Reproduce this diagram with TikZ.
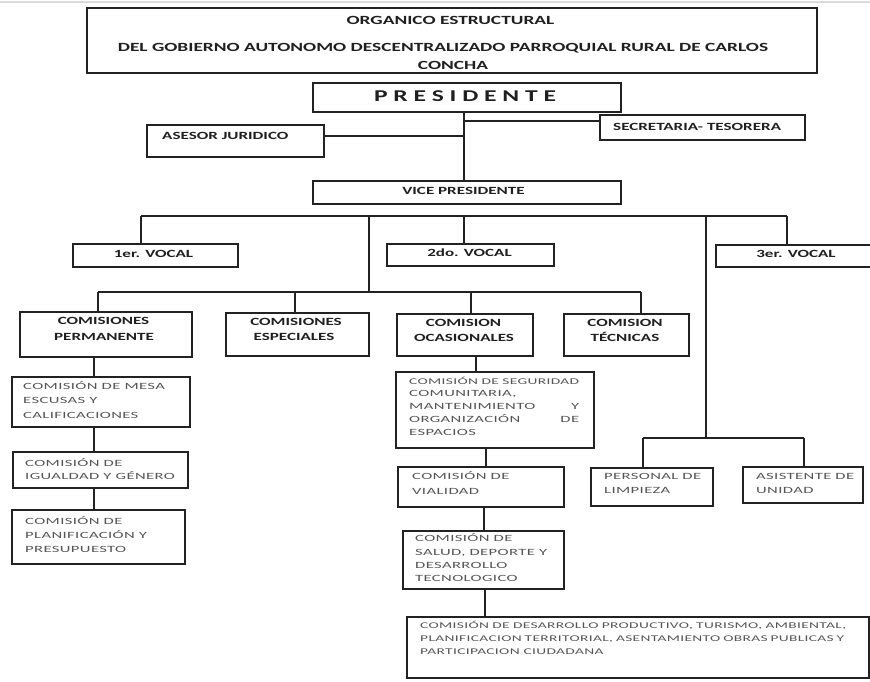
\documentclass[tikz,border=0pt]{standalone}
\usepackage{fontspec}
\setmainfont{Carlito}
\newfontfamily\hdfont[FakeStretch=1.55]{Carlito}
\newfontfamily\ltfont[FakeStretch=1.75,LetterSpace=4]{Carlito}
\definecolor{lnc}{HTML}{222222}
\definecolor{ltc}{HTML}{555555}
\begin{document}
\begin{tikzpicture}[x=1pt,y=-1pt,
  bx/.style={draw=lnc, line width=1.3pt, inner sep=0pt},
  cn/.style={draw=lnc, line width=1.4pt},
  hd/.style={inner sep=0pt, anchor=base, text=black!88, font=\hdfont\bfseries\fontsize{11}{13}\selectfont},
  hdw/.style={hd, anchor=base west},
  lt/.style={inner sep=0pt, anchor=base west, text=ltc, font=\ltfont\fontsize{9.5}{11}\selectfont},
  lts/.style={lt, font=\ltfont\fontsize{8.8}{11}\selectfont}]
\useasboundingbox (0,0) rectangle (870,681);
\draw[black!14, line width=1.5pt] (0,2) -- (870,2);

% boxes
\node[bx, minimum width=730, minimum height=65] (title) at (452,40.5) {};
\node[bx, minimum width=308, minimum height=29] (pres) at (467,97.5) {};
\node[bx, minimum width=177, minimum height=32] (asesor) at (235.5,141) {};
\node[bx, minimum width=205, minimum height=25] (secre) at (702.5,127.5) {};
\node[bx, minimum width=308, minimum height=23] (vp) at (467,192.5) {};
\node[bx, minimum width=165, minimum height=23] (v1) at (155.5,255.5) {};
\node[bx, minimum width=167, minimum height=22] (v2) at (470.5,255) {};
\node[bx, minimum width=184, minimum height=22] (v3) at (808,256) {};
\node[bx, minimum width=172, minimum height=45] (perm) at (106,334.5) {};
\node[bx, minimum width=143, minimum height=43] (espe) at (297.5,334.5) {};
\node[bx, minimum width=136, minimum height=42] (ocas) at (465,335) {};
\node[bx, minimum width=125, minimum height=42] (tecn) at (626.5,335) {};
\node[bx, minimum width=178, minimum height=50] (mesa) at (101,402) {};
\node[bx, minimum width=175, minimum height=36] (igual) at (100.5,470) {};
\node[bx, minimum width=173, minimum height=54] (plan) at (98.5,537) {};
\node[bx, minimum width=198, minimum height=76] (segu) at (495,410) {};
\node[bx, minimum width=166, minimum height=40] (vial) at (481,487) {};
\node[bx, minimum width=161, minimum height=58] (salud) at (483.5,560) {};
\node[bx, minimum width=462, minimum height=61] (big) at (638,647.5) {};
\node[bx, minimum width=122, minimum height=38] (pers) at (652,487) {};
\node[bx, minimum width=120, minimum height=36] (asis) at (803,485) {};

% texts: headings
\node[hd, font=\hdfont\bfseries\fontsize{12.5}{14}\selectfont] (tt1) at (450.5,24) {ORGANICO ESTRUCTURAL};
\node[hd, font=\hdfont\bfseries\fontsize{12.5}{14}\selectfont] (tt2) at (443,51) {DEL GOBIERNO AUTONOMO DESCENTRALIZADO PARROQUIAL RURAL DE CARLOS};
\node[hd, font=\hdfont\bfseries\fontsize{12.5}{14}\selectfont] (tt3) at (453,69) {CONCHA};
\node[hd, font=\hdfont\bfseries\fontsize{16.5}{18}\selectfont] (tpres) at (465,101.5) {P R E S I D E N T E};
\node[hdw] (tases) at (162,139.5) {ASESOR JURIDICO};
\node[hdw] (tsec) at (613,130.5) {SECRETARIA- TESORERA};
\node[hd] (tvp) at (463.5,194.5) {VICE PRESIDENTE};
\node[hd] (tv1) at (153.5,257.5) {1er. VOCAL};
\node[hd] (tv2) at (469.5,256.5) {2do. VOCAL};
\node[hd] (tv3) at (796,257.5) {3er. VOCAL};
\node[hd] (tperm1) at (103.5,324.5) {COMISIONES};
\node[hd] (tperm2) at (104,340.5) {PERMANENTE};
\node[hd] (tesp1) at (296,325.5) {COMISIONES};
\node[hd] (tesp2) at (294,340.5) {ESPECIALES};
\node[hd] (toca1) at (463.5,326.5) {COMISION};
\node[hd] (toca2) at (464,341.5) {OCASIONALES};
\node[hd] (ttec1) at (625,326.5) {COMISION};
\node[hd] (ttec2) at (625,341.5) {TÉCNICAS};

% texts: light
\node[lt] (tme1) at (23,389) {COMISIÓN DE MESA};
\node[lt] (tme2) at (23,403.5) {ESCUSAS Y};
\node[lt] (tme3) at (23,418) {CALIFICACIONES};
\node[lt] (tig1) at (25,466) {COMISIÓN DE};
\node[lt] (tig2) at (25,479) {IGUALDAD Y GÉNERO};
\node[lt] (tpl1) at (25,524) {COMISIÓN DE};
\node[lt] (tpl2) at (25,538) {PLANIFICACIÓN Y};
\node[lt] (tpl3) at (25,552) {PRESUPUESTO};
\node[lts] (tse1) at (409,384) {\makebox[170pt][s]{COMISIÓN DE SEGURIDAD}};
\node[lt] (tse2) at (409,396.5) {COMUNITARIA,};
\node[lt] (tse3) at (409,409.5) {\makebox[170pt][l]{MANTENIMIENTO\hfill Y}};
\node[lt] (tse4) at (409,422) {\makebox[170pt][l]{ORGANIZACIÓN\hfill DE}};
\node[lt] (tse5) at (409,435) {ESPACIOS};
\node[lt] (tvi1) at (412,479) {COMISIÓN DE};
\node[lt] (tvi2) at (412,494) {VIALIDAD};
\node[lt] (tsa1) at (415,541) {COMISIÓN DE};
\node[lt] (tsa2) at (415,555) {SALUD, DEPORTE Y};
\node[lt] (tsa3) at (415,568) {DESARROLLO};
\node[lt] (tsa4) at (415,581) {TECNOLOGICO};
\node[lts] (tbg1) at (420,628) {\makebox[426pt][s]{COMISIÓN DE DESARROLLO PRODUCTIVO, TURISMO, AMBIENTAL,}};
\node[lts] (tbg2) at (420,641) {\makebox[424pt][s]{PLANIFICACION TERRITORIAL, ASENTAMIENTO OBRAS PUBLICAS Y}};
\node[lts] (tbg3) at (420,654) {PARTICIPACION CIUDADANA};
\node[lt] (tpe1) at (604,479) {PERSONAL DE};
\node[lt] (tpe2) at (604,493) {LIMPIEZA};
\node[lt] (tas1) at (756,479) {ASISTENTE DE};
\node[lt] (tas2) at (756,493) {UNIDAD};

% junction coordinates
\coordinate (cTrunk) at (464,0);
\coordinate (cAJ) at (463,136);
\coordinate (cST) at (464,121);
\coordinate (barL) at (141,216);
\coordinate (barR) at (787,216);
\coordinate (c369) at (369,216);
\coordinate (cb369) at (369,292);
\coordinate (cbL) at (98,292);
\coordinate (cbR) at (641,292);
\coordinate (c706) at (706,216);
\coordinate (pb706) at (706,438);
\coordinate (pbL) at (643,438);
\coordinate (pbR) at (804,438);
\coordinate (x94) at (94,0);
\coordinate (x295) at (295,0);
\coordinate (x471) at (471,0);
\coordinate (x476) at (476,0);
\coordinate (x486) at (486,0);
\coordinate (x484) at (484,0);
\coordinate (x485) at (485,0);

% connectors
\draw[cn] (pres.south -| cTrunk) -- (vp.north -| cTrunk);
\draw[cn] (asesor.east |- cAJ) -- (cAJ);
\draw[cn] (cST) -- (secre.west |- cST);
\draw[cn, line width=2.8pt] (barL) -- (barR);
\draw[cn] (barL) -- (v1.north -| barL);
\draw[cn] (cTrunk |- barL) -- (v2.north -| cTrunk);
\draw[cn] (barR) -- (v3.north -| barR);
\draw[cn] (c369) -- (cb369);
\draw[cn] (c706) -- (pb706);
\draw[cn] (cbL) -- (cbR);
\draw[cn] (cbL) -- (perm.north -| cbL);
\draw[cn] (x295 |- cbL) -- (espe.north -| x295);
\draw[cn] (x471 |- cbL) -- (ocas.north -| x471);
\draw[cn] (cbR) -- (tecn.north -| cbR);
\draw[cn] (perm.south -| x94) -- (mesa.north -| x94);
\draw[cn] (mesa.south -| x94) -- (igual.north -| x94);
\draw[cn] (igual.south -| x94) -- (plan.north -| x94);
\draw[cn] (ocas.south -| x476) -- (segu.north -| x476);
\draw[cn] (segu.south -| x486) -- (vial.north -| x486);
\draw[cn] (vial.south -| x484) -- (salud.north -| x484);
\draw[cn] (salud.south -| x485) -- (big.north -| x485);
\draw[cn, line width=1.1pt] (pbL) -- (pbR);
\draw[cn] (pbL) -- (pers.north -| pbL);
\draw[cn] (pbR) -- (asis.north -| pbR);
\end{tikzpicture}
\end{document}
